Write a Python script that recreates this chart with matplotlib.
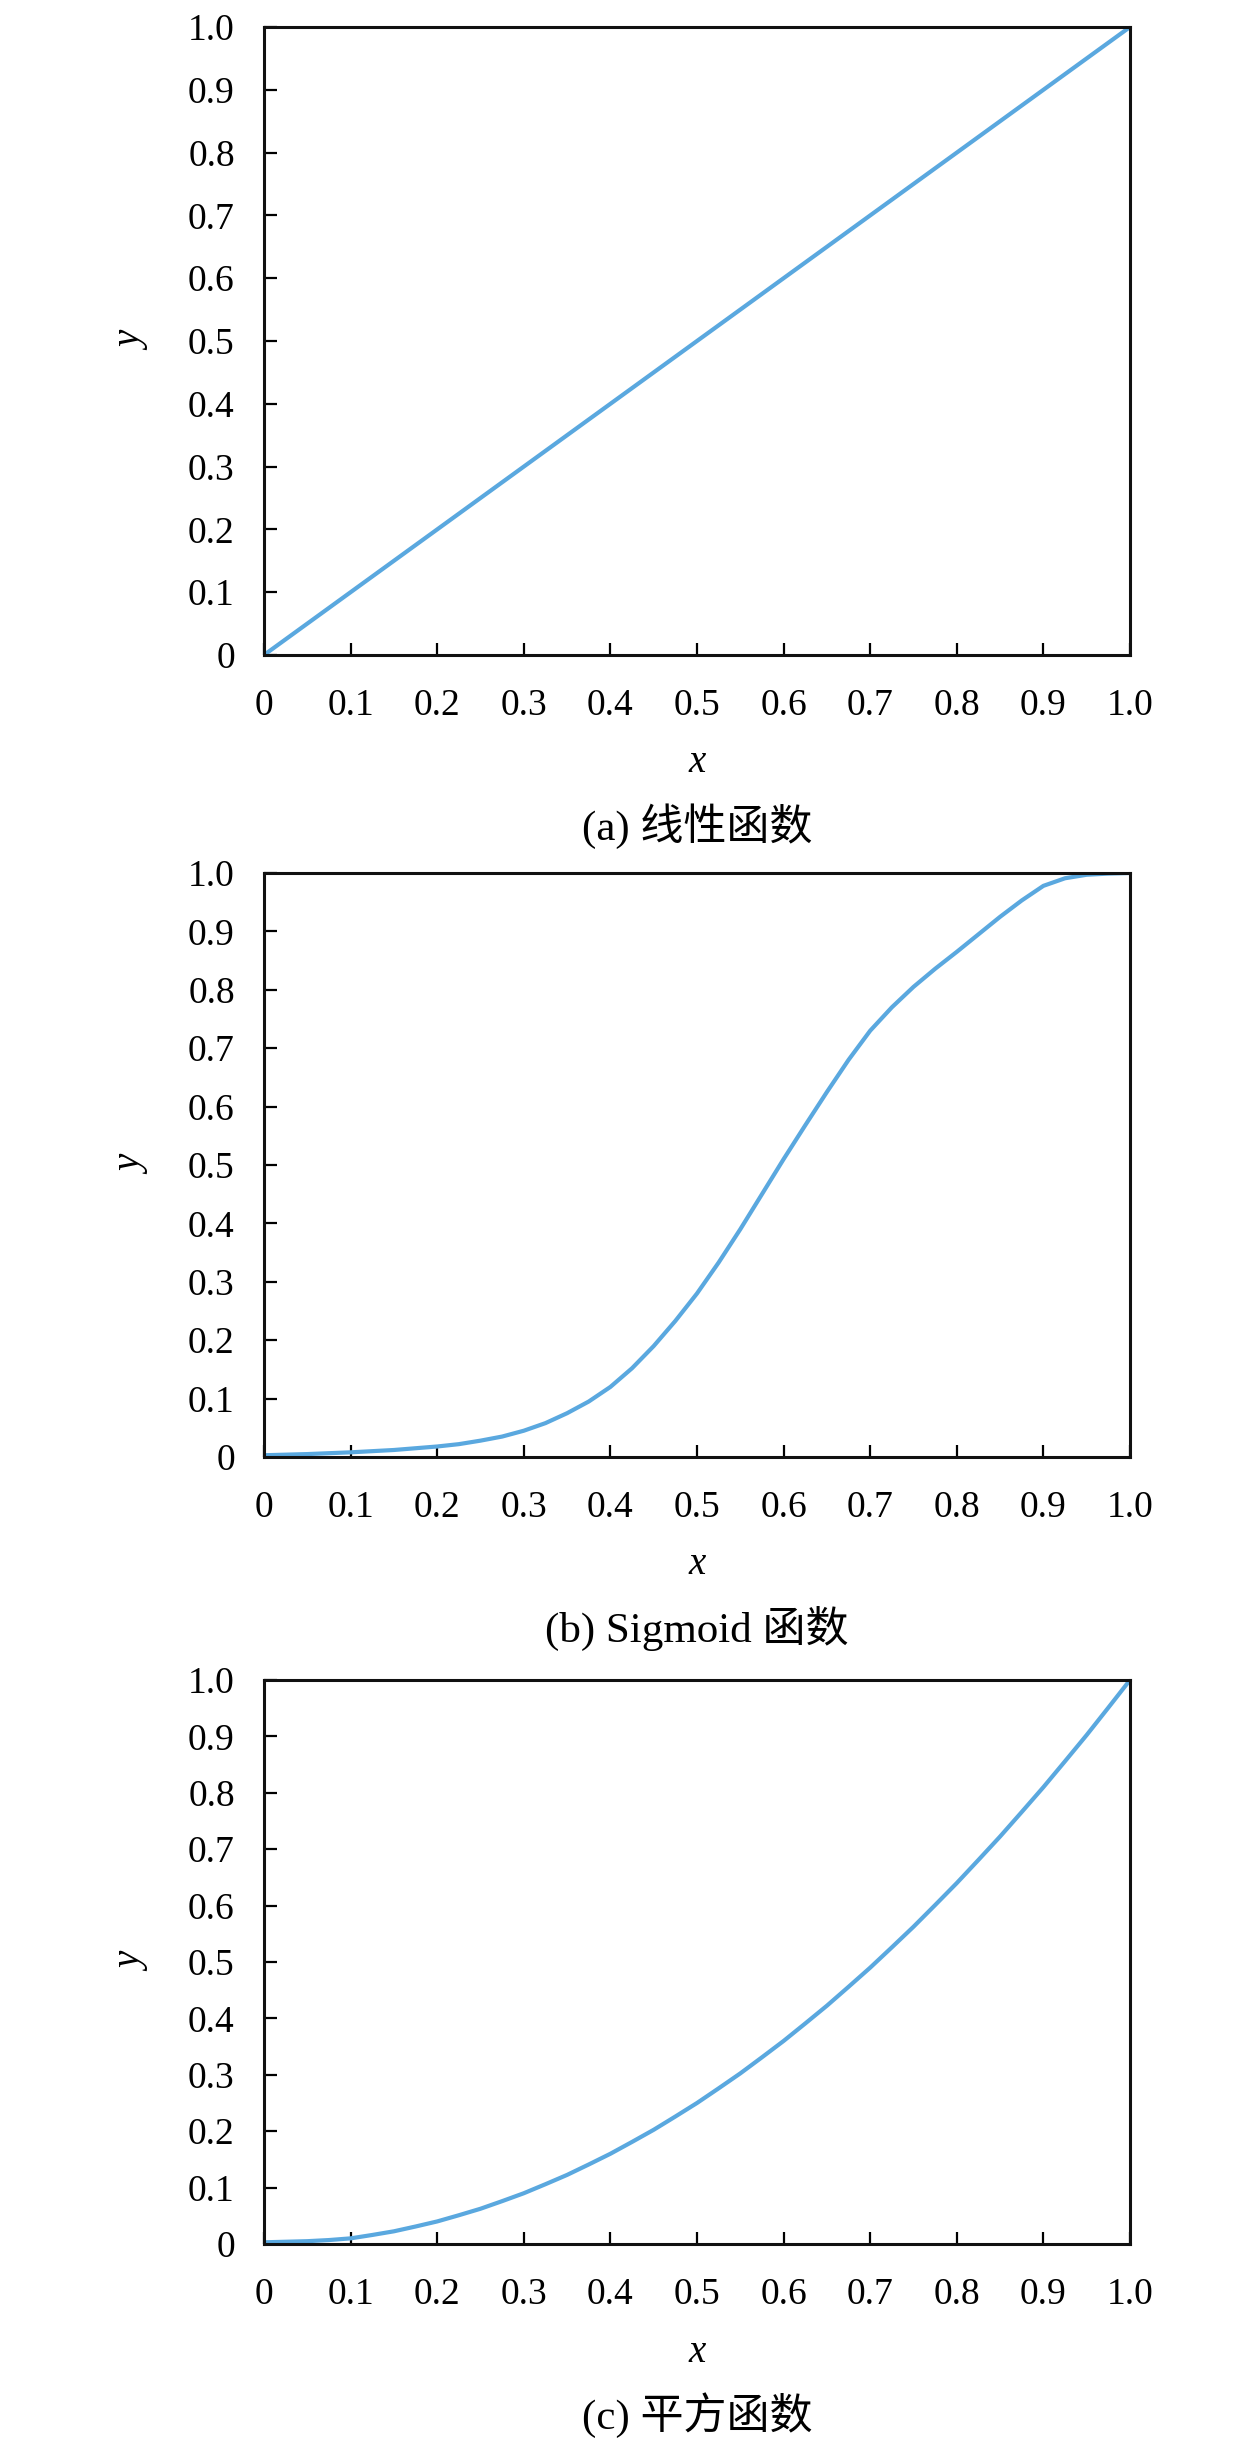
import matplotlib
matplotlib.use("Agg")
import matplotlib.pyplot as plt
from matplotlib.ticker import FixedLocator, FixedFormatter

plt.rcParams['font.family'] = ['Liberation Serif', 'Noto Sans CJK SC', 'DejaVu Sans']

# ---- data ----
x_linear = [0.0, 0.1, 0.2, 0.3, 0.4, 0.5, 0.6, 0.7, 0.8, 0.9, 1.0]
y_linear = [0.0, 0.1, 0.2, 0.3, 0.4, 0.5, 0.6, 0.7, 0.8, 0.9, 1.0]

x_sig = [0.000, 0.025, 0.050, 0.075, 0.100, 0.125, 0.150, 0.175, 0.200, 0.225,
         0.250, 0.275, 0.300, 0.325, 0.350, 0.375, 0.400, 0.425, 0.450, 0.475,
         0.500, 0.525, 0.550, 0.575, 0.600, 0.625, 0.650, 0.675, 0.700, 0.725,
         0.750, 0.775, 0.800, 0.825, 0.850, 0.875, 0.900, 0.925, 0.950, 0.975, 1.000]
y_sig = [0.003, 0.004, 0.005, 0.0065, 0.008, 0.010, 0.012, 0.015, 0.018, 0.022,
         0.028, 0.035, 0.045, 0.058, 0.075, 0.095, 0.120, 0.152, 0.190, 0.233,
         0.280, 0.333, 0.390, 0.450, 0.510, 0.568, 0.625, 0.680, 0.730, 0.770,
         0.805, 0.836, 0.865, 0.895, 0.925, 0.953, 0.978, 0.991, 0.997, 0.999, 1.000]

x_sq = [0.000, 0.025, 0.050, 0.075, 0.100, 0.125, 0.150, 0.175, 0.200, 0.225,
        0.250, 0.275, 0.300, 0.325, 0.350, 0.375, 0.400, 0.425, 0.450, 0.475,
        0.500, 0.525, 0.550, 0.575, 0.600, 0.625, 0.650, 0.675, 0.700, 0.725,
        0.750, 0.775, 0.800, 0.825, 0.850, 0.875, 0.900, 0.925, 0.950, 0.975, 1.000]
y_sq = [0.003, 0.004, 0.005, 0.007, 0.010, 0.016, 0.0225, 0.031, 0.040, 0.051,
        0.0625, 0.076, 0.090, 0.106, 0.1225, 0.141, 0.160, 0.181, 0.2025, 0.226,
        0.250, 0.276, 0.3025, 0.331, 0.360, 0.391, 0.4225, 0.456, 0.490, 0.526,
        0.5625, 0.601, 0.640, 0.681, 0.7225, 0.766, 0.810, 0.856, 0.9025, 0.951, 1.000]

tick_vals = [0.0, 0.1, 0.2, 0.3, 0.4, 0.5, 0.6, 0.7, 0.8, 0.9, 1.0]
tick_labels = ['0', '0.1', '0.2', '0.3', '0.4', '0.5', '0.6', '0.7', '0.8', '0.9', '1.0']
captions = ['(a) 线性函数', '(b) Sigmoid 函数', '(c) 平方函数']

series = [(x_linear, y_linear), (x_sig, y_sig), (x_sq, y_sq)]

W, H = 1260, 2446
fig = plt.figure(figsize=(W / 100, H / 100), dpi=100)

# panel pixel boxes: (top, bottom)
boxes = [(27, 655), (873, 1457), (1680, 2244)]
left_px, right_px = 264, 1130

line_color = '#5AA8DF'
fs = 27

for (top, bot), (xs, ys), cap in zip(boxes, series, captions):
    ax = fig.add_axes([left_px / W, 1 - bot / H, (right_px - left_px) / W, (bot - top) / H])
    ax.plot(xs, ys, color=line_color, lw=3.0, solid_capstyle='round',
            solid_joinstyle='round')
    ax.set_xlim(0, 1)
    ax.set_ylim(0, 1)
    ax.xaxis.set_major_locator(FixedLocator(tick_vals))
    ax.xaxis.set_major_formatter(FixedFormatter(tick_labels))
    ax.yaxis.set_major_locator(FixedLocator(tick_vals))
    ax.yaxis.set_major_formatter(FixedFormatter(tick_labels))
    ax.tick_params(axis='both', direction='in', length=9, width=1.6,
                   labelsize=fs, pad=21, colors='black')
    ax.tick_params(axis='x', pad=24)
    for s in ax.spines.values():
        s.set_linewidth(2.2)
        s.set_color('#111111')
    cx = (left_px + right_px) / 2 / W
    fig.text(cx, 1 - (bot + 108) / H, 'x', ha='center', va='center',
             fontsize=fs + 1, style='italic', family=['Liberation Serif'])
    fig.text(133 / W, 1 - ((top + bot) / 2) / H, 'y', ha='center', va='center',
             rotation=90, fontsize=fs + 1, style='italic', family=['Liberation Serif'])
    fig.text(cx, 1 - (bot + 171) / H, cap, ha='center', va='center',
             fontsize=31, family=['Liberation Serif', 'Noto Sans CJK SC'])

fig.savefig('out.png', dpi=100)
